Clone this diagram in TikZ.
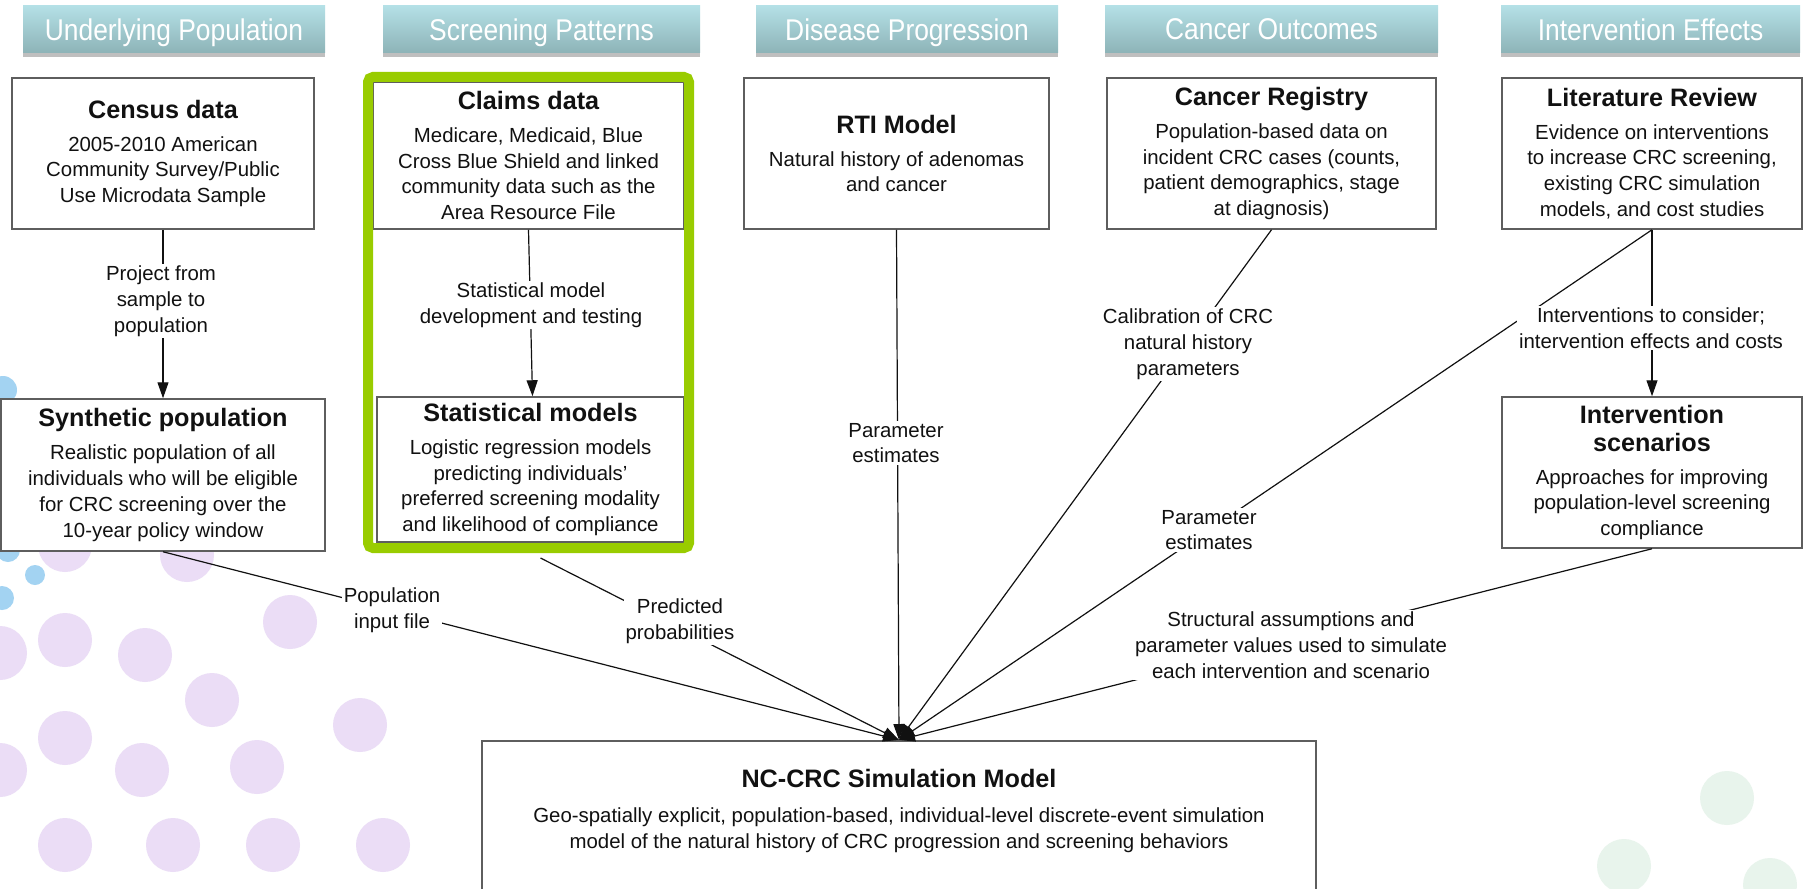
\documentclass[tikz,border=0pt]{standalone}
\usepackage{fontspec}
\setmainfont{Liberation Sans}
\newfontfamily\headfont[FakeStretch=0.88]{Liberation Sans}
\usetikzlibrary{arrows.meta,shadows,calc}

\definecolor{lav}{HTML}{EBDDF6}
\definecolor{dotblue}{HTML}{A3D3F2}
\definecolor{dotgreen}{HTML}{E8F4EC}
\definecolor{headtop}{HTML}{B4E0E6}
\definecolor{headbot}{HTML}{8DB3B7}
\definecolor{frame}{HTML}{99CC00}
\definecolor{edge}{HTML}{5E5E5E}
\definecolor{ink}{HTML}{111111}

\newcommand\titlefont{\fontsize{12.6pt}{15pt}\selectfont\bfseries}
\newcommand\bodyfont{\fontsize{10.2pt}{12.9pt}\selectfont}

\tikzset{
  header/.style={minimum height=23.5pt, inner sep=0pt, top color=headtop,
    bottom color=headbot, draw=none, text=white, text depth=0pt,
    drop shadow={shadow xshift=0pt, shadow yshift=-2pt, opacity=0.25, fill=black},
    font=\headfont\fontsize{15pt}{17pt}\selectfont},
  box/.style={draw=edge, line width=0.75pt, fill=white, inner sep=0pt,
    align=center, font=\bodyfont, text=ink},
  lbl/.style={fill=white, inner sep=1pt, align=center, font=\bodyfont, text=ink},
  link/.style={line width=0.6pt, draw=ink, -{Triangle[length=8pt,width=5.5pt]}},
  dot/.style={circle, inner sep=0pt, minimum size=27pt, draw=none},
}

\begin{document}
\begin{tikzpicture}[x=0.5pt, y=-0.5pt]
\clip (0,0) rectangle (1808,888);
\fill[white] (0,0) rectangle (1808,888);

% decorative dots
\foreach \p in {(65,545),(187,555),(290,622),(65,640),(0,653),(145,655),
  (212,700),(360,725),(65,738),(0,770),(142,770),(257,767),
  (65,845),(173,845),(273,845),(383,845)}
  \node[dot, fill=lav] at \p {};
\node[dot, fill=dotblue, minimum size=14pt] at (3,390) {};
\node[dot, fill=dotblue, minimum size=12pt] at (8,550) {};
\node[dot, fill=dotblue, minimum size=10pt] at (35,575) {};
\node[dot, fill=dotblue, minimum size=12pt] at (2,598) {};
\foreach \p in {(1727,798),(1624,866),(1770,885)}
  \node[dot, fill=dotgreen] at \p {};

% column headers
\node[header, minimum width=151pt] (h1) at (174,29.5) {Underlying Population};
\node[header, minimum width=158.5pt] (h2) at (541.5,29.5) {Screening Patterns};
\node[header, minimum width=151pt] (h3) at (907,29.5) {Disease Progression};
\node[header, minimum width=166.5pt] (h4) at (1271.5,29.5) {Cancer Outcomes};
\node[header, minimum width=149.5pt] (h5) at (1650.5,29.5) {Intervention Effects};

% boxes
\node[box, minimum width=151pt, minimum height=75.5pt] (census) at (163,153.5)
  {{\titlefont Census data}\\[3.5pt]2005-2010 American\\Community Survey/Public\\Use Microdata Sample};
\node[box, minimum width=162pt, minimum height=76pt] (synth) at (163,475)
  {{\titlefont Synthetic population}\\[3.5pt]Realistic population of all\\individuals who will be eligible\\for CRC screening over the\\10-year policy window};
\node[box, minimum width=155.5pt, minimum height=73.5pt] (claims) at (528.5,155.5)
  {{\titlefont Claims data}\\[3.5pt]Medicare, Medicaid, Blue\\Cross Blue Shield and linked\\community data such as the\\Area Resource File};
\node[box, minimum width=153.5pt, minimum height=72.5pt] (stat) at (530.5,469.5)
  {{\titlefont Statistical models}\\[3.5pt]Logistic regression models\\predicting individuals'\\preferred screening modality\\and likelihood of compliance};
\node[box, minimum width=152.5pt, minimum height=75.5pt] (rti) at (896.5,153.5)
  {{\titlefont RTI Model}\\[3.5pt]Natural history of adenomas\\and cancer};
\node[box, minimum width=164.5pt, minimum height=75.5pt] (reg) at (1271.5,153.5)
  {{\titlefont Cancer Registry}\\[3.5pt]Population-based data on\\incident CRC cases (counts,\\patient demographics, stage\\at diagnosis)};
\node[box, minimum width=150pt, minimum height=75.5pt] (lit) at (1652,153.5)
  {{\titlefont Literature Review}\\[3.5pt]Evidence on interventions\\to increase CRC screening,\\existing CRC simulation\\models, and cost studies};
\node[box, minimum width=150pt, minimum height=75.5pt] (interv) at (1652,472.5)
  {{\titlefont Intervention}\\[1pt]{\titlefont scenarios}\\[3.5pt]Approaches for improving\\population-level screening\\compliance};
\node[box, minimum width=417pt, minimum height=90pt, anchor=north] (sim) at (899,740) {};
\node[font=\bodyfont, text=ink, align=center] (simtext) at (899,811)
  {{\titlefont NC-CRC Simulation Model}\\[4.5pt]Geo-spatially explicit, population-based, individual-level discrete-event simulation\\model of the natural history of CRC progression and screening behaviors};

% highlight frame around the screening-pattern boxes
\node[draw=frame, line width=5pt, rounded corners=2.5pt, inner sep=0pt,
  minimum width=160.5pt, minimum height=235.5pt] (grp) at (528.5,312.5) {};

% connectors
\draw[link] (census.south) -- (synth.north);
\draw[link] (claims.south) -- ([xshift=1pt]stat.north);
\draw[link] (lit.south) -- (interv.north);
\draw[link] ([shift={(12,5)}]grp.south) -- (sim.north);
\draw[link] (synth.south) -- (sim.north);
\draw[link] (rti.south) -- (sim.north);
\draw[link] (reg.south) -- (sim.north);
\draw[link] (lit.south) -- (sim.north);
\draw[link] (interv.south) -- (sim.north);

% connector labels
\node[lbl] (l1) at (161,301) {Project from\\sample to\\population};
\node[lbl] (l2) at (531,305) {Statistical model\\development and testing};
\node[lbl] (l3) at (896,443) {Parameter\\estimates};
\node[lbl] (l4) at (1188,344) {Calibration of CRC\\natural history\\parameters};
\node[lbl] (l5) at (1209,530) {Parameter\\estimates};
\node[lbl] (l6) at (1651,328) {Interventions to consider;\\intervention effects and costs};
\node[lbl] (l7) at (392,610) {Population\\input file};
\node[lbl] (l8) at (680,621) {Predicted\\probabilities};
\node[lbl] (l9) at (1291,645) {Structural assumptions and\\parameter values used to simulate\\each intervention and scenario};
\end{tikzpicture}
\end{document}
